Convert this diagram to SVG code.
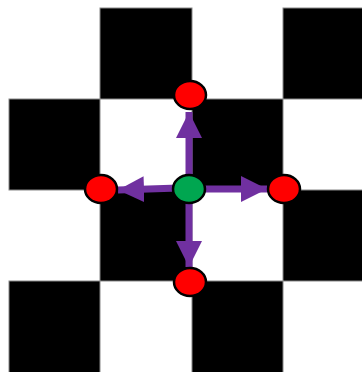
<svg xmlns="http://www.w3.org/2000/svg" width="362" height="372" viewBox="0 0 362 372">
<style>
.blk{fill:#000;stroke:#888;stroke-width:1}
.edge{stroke:#7030a0;stroke-width:7;fill:none}
.red{fill:#ff0000;stroke:#000;stroke-width:2.5}
.grn{fill:#00a650;stroke:#000;stroke-width:2.5}
</style>
<defs>
<marker id="ah" markerUnits="userSpaceOnUse" markerWidth="26" markerHeight="26" viewBox="0 0 24 24" refX="24" refY="12" orient="auto">
<polygon points="0,0 24,12 0,24" fill="#7030a0"/>
</marker>
</defs>
<rect x="0" y="0" width="362" height="372" fill="#fff"/>
<g id="board">
<rect class="blk" x="100" y="8" width="92" height="91"/>
<rect class="blk" x="283" y="8" width="92" height="91"/>
<rect class="blk" x="9" y="99" width="91" height="91"/>
<rect class="blk" x="192" y="99" width="91" height="91"/>
<rect class="blk" x="100" y="190" width="92" height="91"/>
<rect class="blk" x="283" y="190" width="92" height="91"/>
<rect class="blk" x="9" y="281" width="91" height="95"/>
<rect class="blk" x="192" y="281" width="91" height="95"/>
</g>
<g id="connectors">
<line class="edge" x1="189" y1="178" x2="189" y2="112" marker-end="url(#ah)"/>
<line class="edge" x1="199" y1="189" x2="267" y2="189" marker-end="url(#ah)"/>
<line class="edge" x1="179" y1="188" x2="118" y2="190" marker-end="url(#ah)"/>
<line class="edge" x1="189" y1="199" x2="189" y2="267" marker-end="url(#ah)"/>
</g>
<g id="n-top"><ellipse class="red" cx="190" cy="95" rx="16" ry="14"/></g>
<g id="n-left"><ellipse class="red" cx="101" cy="189" rx="16" ry="14"/></g>
<g id="n-right"><ellipse class="red" cx="284" cy="189" rx="16" ry="14"/></g>
<g id="n-bottom"><ellipse class="red" cx="190" cy="282" rx="16" ry="14"/></g>
<g id="n-center"><ellipse class="grn" cx="189" cy="189" rx="16" ry="14"/></g>
</svg>
